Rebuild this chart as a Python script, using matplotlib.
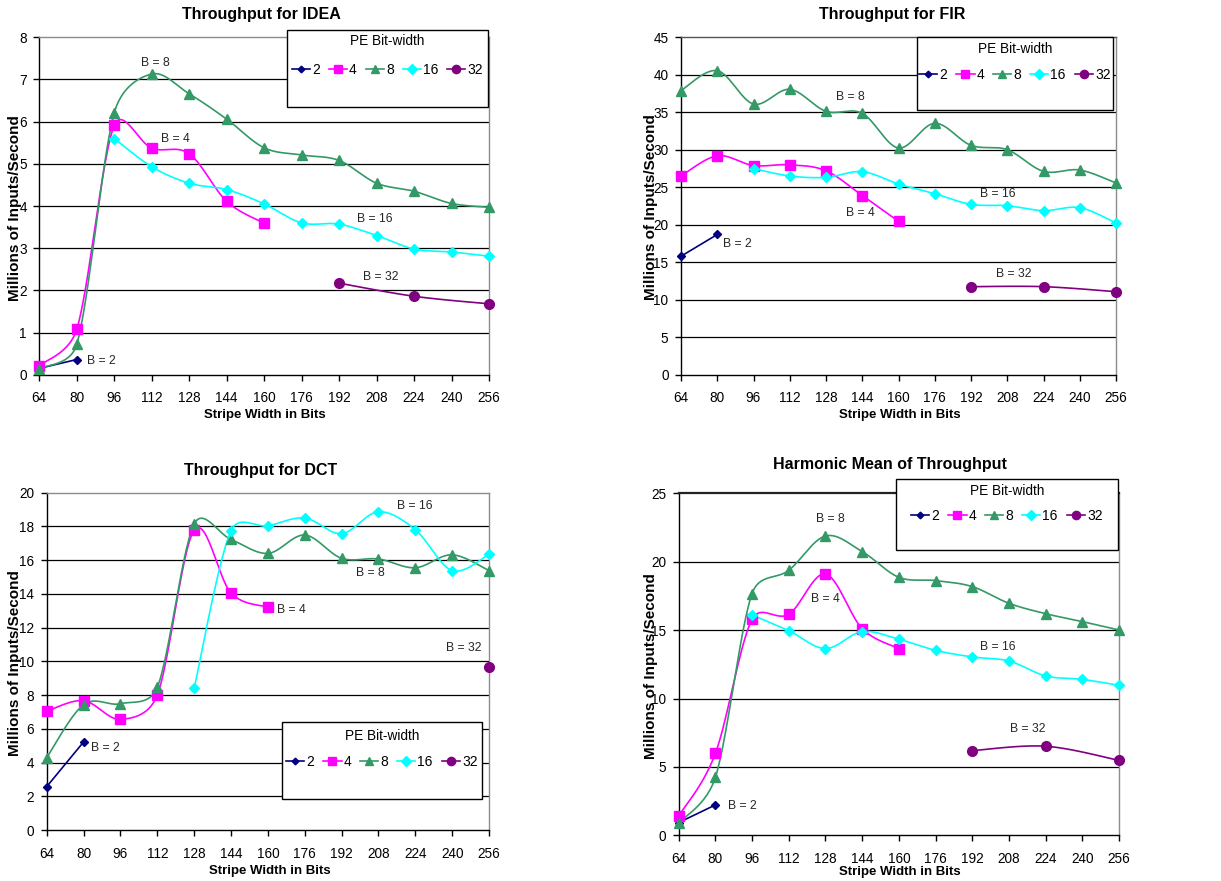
import numpy as np
import matplotlib
matplotlib.use('Agg')
import matplotlib.pyplot as plt
from matplotlib.lines import Line2D
from matplotlib.patches import Rectangle

plt.rcParams['font.family'] = ['Liberation Sans', 'DejaVu Sans']

# ---------------- data ----------------
stripe_widths = [64, 80, 96, 112, 128, 144, 160, 176, 192, 208, 224, 240, 256]
series_labels = ['2', '4', '8', '16', '32']

x_b2 = [64, 80]
x_b4 = [64, 80, 96, 112, 128, 144, 160]
x_b8 = [64, 80, 96, 112, 128, 144, 160, 176, 192, 208, 224, 240, 256]
x_b16 = [96, 112, 128, 144, 160, 176, 192, 208, 224, 240, 256]
x_b16_dct = [128, 144, 160, 176, 192, 208, 224, 240, 256]
x_b32 = [192, 224, 256]
x_b32_dct = [256]

# IDEA
idea_b2 = [0.15, 0.36]
idea_b4 = [0.21, 1.08, 5.91, 5.37, 5.24, 4.11, 3.59]
idea_b8 = [0.14, 0.72, 6.21, 7.13, 6.66, 6.06, 5.38, 5.21, 5.08, 4.54, 4.35, 4.06, 3.97]
idea_b16 = [5.60, 4.93, 4.54, 4.39, 4.05, 3.60, 3.57, 3.30, 2.98, 2.91, 2.81]
idea_b32 = [2.17, 1.86, 1.68]

# FIR
fir_b2 = [15.8, 18.7]
fir_b4 = [26.5, 29.2, 27.9, 28.0, 27.2, 23.9, 20.45]
fir_b8 = [37.9, 40.55, 36.1, 38.06, 35.13, 34.86, 30.24, 33.53, 30.59, 30.01, 27.12, 27.3, 25.57]
fir_b16 = [27.48, 26.5, 26.32, 27.08, 25.43, 24.14, 22.72, 22.54, 21.88, 22.28, 20.23]
fir_b32 = [11.74, 11.74, 11.07]

# DCT
dct_b2 = [2.57, 5.22]
dct_b4 = [7.04, 7.67, 6.56, 8.0, 17.77, 14.05, 13.22]
dct_b8 = [4.29, 7.43, 7.49, 8.46, 18.14, 17.23, 16.40, 17.49, 16.11, 16.07, 15.55, 16.32, 15.38]
dct_b16 = [8.40, 17.75, 18.04, 18.50, 17.57, 18.87, 17.81, 15.38, 16.34]
dct_b32 = [9.68]

# Harmonic mean
hm_b2 = [0.93, 2.22]
hm_b4 = [1.41, 5.99, 15.79, 16.15, 19.10, 15.11, 13.65]
hm_b8 = [0.88, 4.24, 17.67, 19.37, 21.88, 20.74, 18.86, 18.62, 18.18, 16.96, 16.20, 15.62, 15.01]
hm_b16 = [16.11, 14.96, 13.65, 14.89, 14.33, 13.52, 13.04, 12.74, 11.65, 11.40, 10.96]
hm_b32 = [6.19, 6.51, 5.48]

# ---------------- styles ----------------
colors = ['#000080', '#FF00FF', '#339966', '#00FFFF', '#800080']
markers = ['D', 's', '^', 'D', 'o']
msizes = [4, 6.5, 6.5, 5.5, 7]

W, H = 1221, 881
fig = plt.figure(figsize=(W / 100, H / 100), dpi=100)
FS = 9.5


def smooth(x, y, sx, sy, n=30):
    """Excel-like smoothed line (Bezier, tension 1/6, limited to half a segment in screen space)."""
    x = np.asarray(x, float)
    y = np.asarray(y, float)
    if len(x) < 3:
        return x, y
    P = np.column_stack([x * sx, y * sy])
    Pe = np.vstack([P[0], P, P[-1]])
    out = []
    t = np.linspace(0, 1, n)[:, None]
    for i in range(len(P) - 1):
        p0, p1, p2, p3 = Pe[i], Pe[i + 1], Pe[i + 2], Pe[i + 3]
        d12 = np.hypot(*(p2 - p1))
        d02 = np.hypot(*(p2 - p0))
        d13 = np.hypot(*(p3 - p1))
        f1 = 1 / 6 if d02 / 6 < d12 / 2 or d02 == 0 else d12 / (2 * d02)
        f2 = 1 / 6 if d13 / 6 < d12 / 2 or d13 == 0 else d12 / (2 * d13)
        c1 = p1 + (p2 - p0) * f1
        c2 = p2 - (p3 - p1) * f2
        seg = ((1 - t) ** 3) * p1 + 3 * ((1 - t) ** 2) * t * c1 + 3 * (1 - t) * t ** 2 * c2 + t ** 3 * p2
        out.append(seg if i == 0 else seg[1:])
    S = np.vstack(out)
    return S[:, 0] / sx, S[:, 1] / sy


def px_axes(l, r, t, b):
    return fig.add_axes([l / W, 1 - b / H, (r - l) / W, (b - t) / H])


def draw_panel(box, title, tpos, xlpos, ylpos, ymax, ystep, series, labels, legbox,
               legtitle_y, legent_y, top_color='#8c8c8c', top_lw=1.0):
    ax = px_axes(*box)
    l0, r0, t0, b0 = box
    sx = (r0 - l0) / 192.0
    sy = (b0 - t0) / ymax
    ax.set_xlim(64, 256)
    ax.set_ylim(0, ymax)
    yt = np.arange(0, ymax + ystep / 2, ystep)
    ax.set_yticks(yt)
    ax.set_xticks(stripe_widths)
    for v in yt[1:-1]:
        ax.axhline(v, color='black', lw=0.9, zorder=1)
    ax.spines['right'].set_color('#8c8c8c')
    ax.spines['right'].set_linewidth(1.0)
    ax.spines['top'].set_color(top_color)
    ax.spines['top'].set_linewidth(top_lw)
    for s in ['left', 'bottom']:
        ax.spines[s].set_color('black')
        ax.spines[s].set_linewidth(1.0)
    ax.tick_params(axis='both', direction='out', length=4, width=1, labelsize=FS + 0.3, colors='black')
    ax.tick_params(axis='y', pad=5)
    ax.tick_params(axis='x', pad=8)
    for i, (xs, ys) in enumerate(series):
        cx, cy = smooth(xs, ys, sx, sy)
        ax.plot(cx, cy, color=colors[i], lw=1.2, zorder=3, clip_on=False)
        ax.plot(xs, ys, ls='none', marker=markers[i], ms=msizes[i], color=colors[i],
                mec=colors[i], zorder=4, clip_on=False)
    for (lx, ly, txt) in labels:
        ax.text(lx, ly, txt, ha='center', va='center', fontsize=FS - 0.8, color='#262626', zorder=5)
    fig.text(tpos[0] / W, 1 - tpos[1] / H, title, ha='center', va='center',
             fontsize=11.5, fontweight='bold')
    fig.text(xlpos[0] / W, 1 - xlpos[1] / H, 'Stripe Width in Bits', ha='center', va='center',
             fontsize=FS, fontweight='bold')
    fig.text(ylpos[0] / W, 1 - ylpos[1] / H, 'Millions of Inputs/Second', ha='center', va='center',
             rotation=90, fontsize=11, fontweight='bold')
    # legend
    l, r, t, b = legbox
    fig.add_artist(Rectangle((l / W, 1 - b / H), (r - l) / W, (b - t) / H,
                             transform=fig.transFigure, facecolor='white',
                             edgecolor='black', lw=1.0, zorder=2))
    cxl = (l + r) / 2
    fig.text(cxl / W, 1 - legtitle_y / H, 'PE Bit-width', ha='center', va='center',
             fontsize=FS + 0.3, zorder=6)
    handles = [Line2D([], [], color=colors[i], marker=markers[i], ms=msizes[i] * 0.85, lw=1.2)
               for i in range(5)]
    leg = fig.legend(handles, series_labels, ncol=5, frameon=False,
                     loc='center', bbox_to_anchor=(cxl / W, 1 - legent_y / H),
                     fontsize=FS + 0.5, handlelength=1.3,
                     handletextpad=0.15, columnspacing=0.65, borderpad=0.1)
    leg.set_zorder(6)
    return ax


draw_panel((39.3, 489, 37.3, 374.7), 'Throughput for IDEA', (261, 15), (265, 415), (15, 208),
           8, 1,
           [(x_b2, idea_b2), (x_b4, idea_b4), (x_b8, idea_b8), (x_b16, idea_b16), (x_b32, idea_b32)],
           [(113.7, 7.38, 'B = 8'), (121.9, 5.58, 'B = 4'), (207.3, 3.68, 'B = 16'),
            (209.9, 2.31, 'B = 32'), (90.6, 0.32, 'B = 2')],
           (287, 488, 30, 107), 41, 70)

draw_panel((681, 1116, 37.3, 374.7), 'Throughput for FIR', (892, 15), (900, 415), (650.7, 207.5),
           45, 5,
           [(x_b2, fir_b2), (x_b4, fir_b4), (x_b8, fir_b8), (x_b16, fir_b16), (x_b32, fir_b32)],
           [(138.9, 37.0, 'B = 8'), (143, 21.52, 'B = 4'), (203.8, 24.1, 'B = 16'),
            (210.7, 13.38, 'B = 32'), (89, 17.47, 'B = 2')],
           (917, 1113, 37, 110), 49, 75, top_color='#555555')

draw_panel((46.7, 489, 492.7, 830), 'Throughput for DCT', (261, 470.7), (269.5, 870.7), (15, 663),
           20, 2,
           [(x_b2, dct_b2), (x_b4, dct_b4), (x_b8, dct_b8), (x_b16_dct, dct_b16), (x_b32_dct, dct_b32)],
           [(223.9, 19.19, 'B = 16'), (204.4, 15.22, 'B = 8'), (170.3, 13.02, 'B = 4'),
            (245.2, 10.77, 'B = 32'), (89.3, 4.84, 'B = 2')],
           (282, 482, 722, 799), 735.7, 761.7)

draw_panel((678.7, 1119, 493.3, 835.3), 'Harmonic Mean of Throughput', (890, 464.7), (899.7, 871.7),
           (650.7, 665.7),
           25, 5,
           [(x_b2, hm_b2), (x_b4, hm_b4), (x_b8, hm_b8), (x_b16, hm_b16), (x_b32, hm_b32)],
           [(130, 23.1, 'B = 8'), (128.1, 17.25, 'B = 4'), (203, 13.79, 'B = 16'),
            (216, 7.75, 'B = 32'), (91.8, 2.17, 'B = 2')],
           (896, 1118, 479, 550), 491, 516, top_color='#222222', top_lw=1.6)

fig.savefig('out.png', dpi=100)
